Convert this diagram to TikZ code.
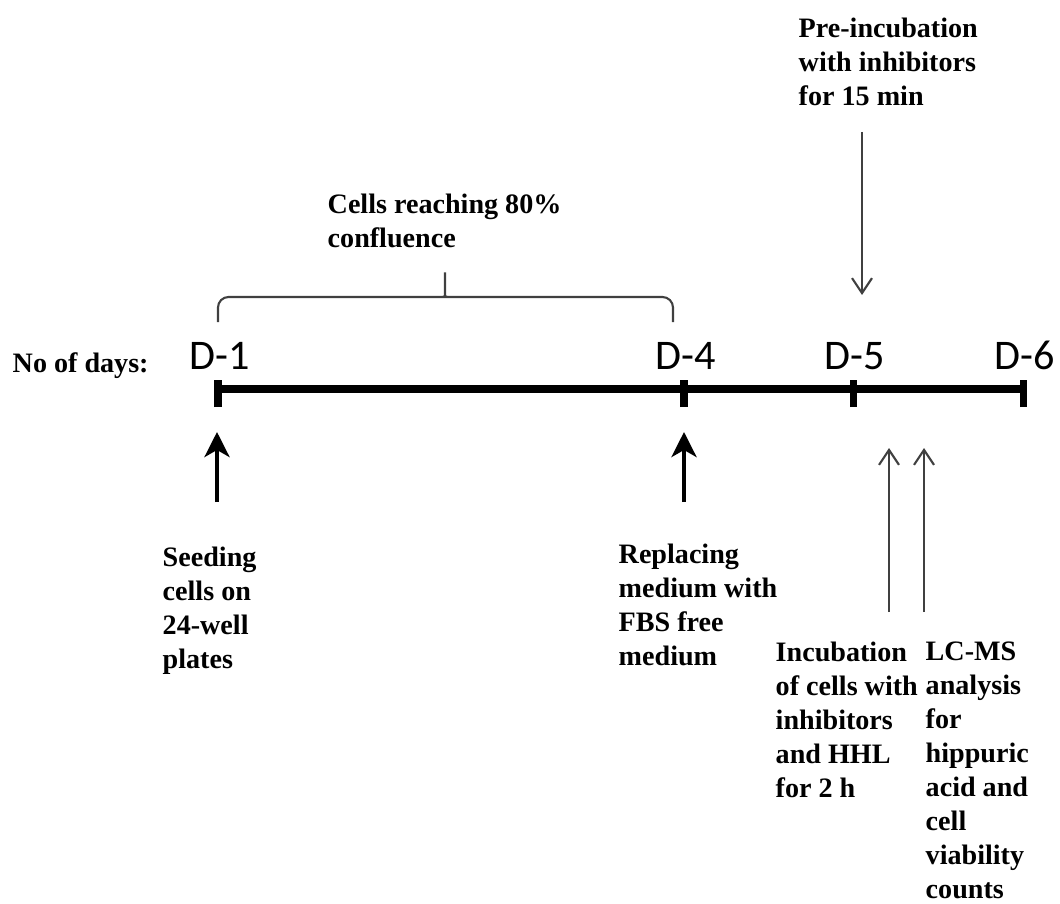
\documentclass[tikz,border=0pt]{standalone}
\usepackage{fontspec}
\setmainfont{Liberation Serif}
\newfontfamily\dayfont{Carlito}
\usetikzlibrary{arrows.meta,positioning}
\definecolor{arrgray}{RGB}{64,64,64}

\begin{document}
\begin{tikzpicture}[x=1cm,y=1cm,lbl/.style={anchor=north west,inner sep=0pt,align=left,font=\fontsize{8}{9.7}\selectfont\bfseries},day/.style={anchor=base,inner sep=0pt,font=\dayfont\fontsize{12}{14}\selectfont},bigup/.style={-{Stealth[length=2.5mm,width=2.5mm,inset=.7mm]},line width=1.2pt},smallarr/.style={-{Straight Barb[length=1.5mm,width=2mm]},line width=.6pt,draw=arrgray}]
\useasboundingbox(0,0)rectangle(10.6,9.03);

% timeline with day ticks
\coordinate(t1)at(2.18,5.14);
\coordinate(t4)at(6.84,5.14);
\coordinate(t5)at(8.53,5.14);
\coordinate(t6)at(10.23,5.14);
\draw[line width=2pt](t1)--(t6);
\foreach \t in {t1,t4,t5,t6}{
 \draw[line width=2pt]([yshift=-.18cm]\t)--([yshift=.09cm]\t);
}
\node[lbl,anchor=base west](nod)at(.12,5.31){No of days:};
\node[day](d1)at(2.20,5.33){D-1};
\node[day](d4)at(6.86,5.33){D-4};
\node[day](d5)at(8.55,5.33){D-5};
\node[day](d6)at(10.25,5.33){D-6};

% confluence bracket D-1 to D-4
\draw[arrgray,line width=.6pt,rounded corners=3pt](2.18,5.81)--(2.18,6.06)--(4.37,6.06) .. controls (4.44,6.06) and (4.45,6.10) .. (4.45,6.20)--(4.45,6.33)--(4.45,6.20) .. controls (4.45,6.10) and (4.46,6.06) .. (4.53,6.06)--(6.73,6.06)--(6.73,5.81);
\node[lbl](conf)at(3.27,7.10){Cells reaching 80\%\\confluence};

\node[lbl](pre)at(7.98,8.86){Pre-incubation\\with inhibitors\\for 15 min};
\coordinate(preS)at(8.62,7.71);
\coordinate(preE)at(8.62,6.08);
\draw[smallarr](preS)--(preE);

% steps below the line
\coordinate(seedS)at(2.17,4.01);
\coordinate(seedE)at(2.17,4.71);
\coordinate(replS)at(6.84,4.01);
\coordinate(replE)at(6.84,4.71);
\draw[bigup](seedS)--(seedE);
\draw[bigup](replS)--(replE);
\node[lbl](seed)at(1.62,3.57){Seeding\\cells on\\24-well\\plates};
\node[lbl](repl)at(6.18,3.60){Replacing\\medium with\\FBS free\\medium};

\coordinate(incS)at(8.89,2.91);
\coordinate(incE)at(8.89,4.55);
\coordinate(lcS)at(9.24,2.91);
\coordinate(lcE)at(9.24,4.55);
\draw[smallarr](incS)--(incE);
\draw[smallarr](lcS)--(lcE);
\node[lbl](inc)at(7.75,2.62){Incubation\\of cells with\\inhibitors\\and HHL\\for 2 h};
\node[lbl](lcms)at(9.25,2.62){LC-MS\\analysis\\for\\hippuric\\acid and\\cell\\viability\\counts};
\end{tikzpicture}
\end{document}
